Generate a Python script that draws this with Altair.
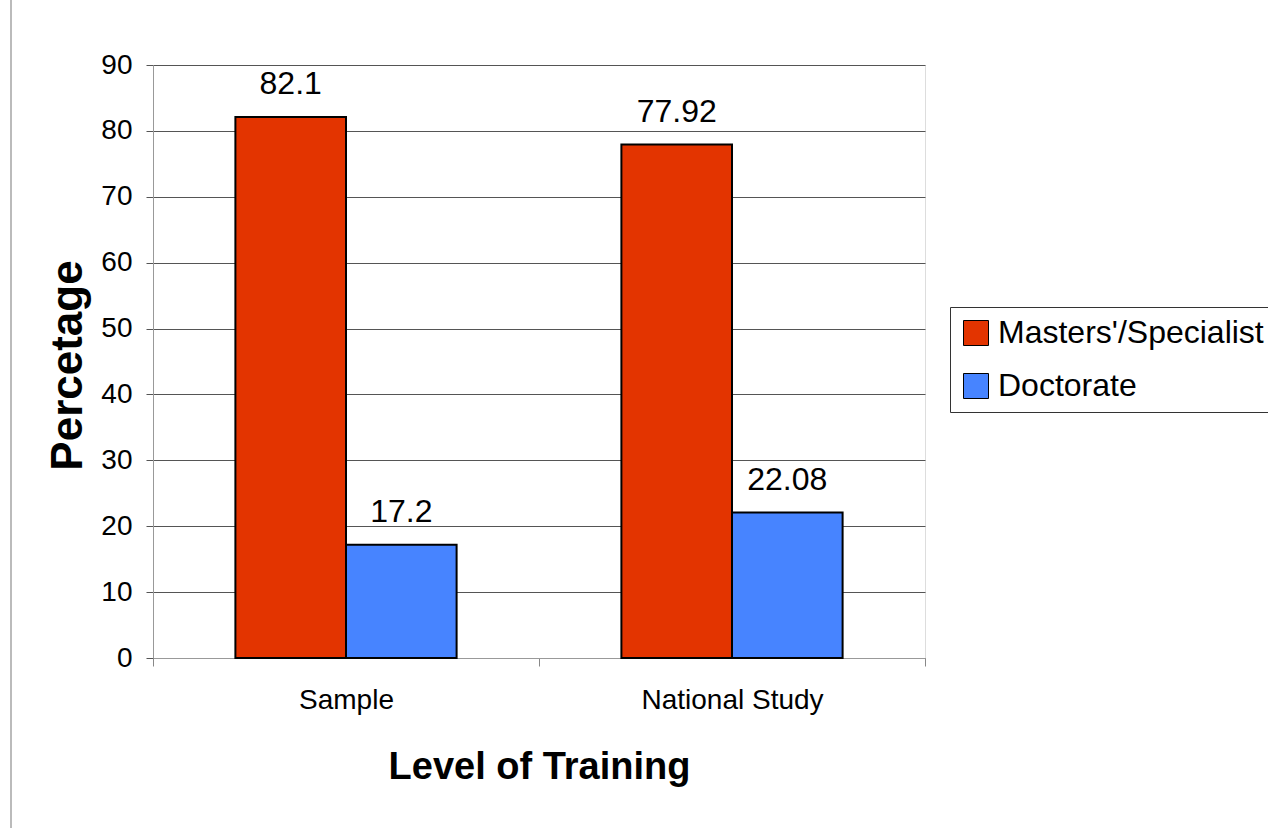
import altair as alt
import pandas as pd

groups = ["Sample", "National Study"]
series = ["Masters'/Specialist", "Doctorate"]
masters = [82.1, 77.92]
doctorate = [17.2, 22.08]
masters_lbl = ["82.1", "77.92"]
doctorate_lbl = ["17.2", "22.08"]
colors = ["#e33400", "#4784ff"]
y_ticks = [0, 10, 20, 30, 40, 50, 60, 70, 80, 90]

rows = []
for i, g in enumerate(groups):
    rows.append({"group": g, "series": series[0], "value": masters[i], "label": masters_lbl[i]})
    rows.append({"group": g, "series": series[1], "value": doctorate[i], "label": doctorate_lbl[i]})
df = pd.DataFrame(rows)

FONT = "Liberation Sans, Arial"
W, H = 772, 593

x_enc = alt.X("group:N", sort=groups, title="Level of Training",
              scale=alt.Scale(paddingInner=0, paddingOuter=0),
              axis=alt.Axis(labelAngle=0, labelFont=FONT, labelFontSize=28, labelColor="#000",
                            labelPadding=20, labelLimit=0, tickBand="extent", tickSize=8,
                            tickColor="#888", domainColor="#999", grid=False,
                            titleFont=FONT, titleFontSize=38, titleFontWeight="bold",
                            titleColor="#000", titleBaseline="alphabetic", titleY=120,
                            titleX=W / 2))
xo_enc = alt.XOffset("series:N", sort=series,
                     scale=alt.Scale(paddingInner=0, paddingOuter=0.745))
y_enc = alt.Y("value:Q", title="Percetage",
              scale=alt.Scale(domain=[0, 90], nice=False),
              axis=alt.Axis(values=y_ticks, labelFont=FONT, labelFontSize=28, labelColor="#000",
                            labelPadding=14, tickSize=7, tickColor="#555", domainColor="#999",
                            gridColor="#555", gridWidth=1,
                            titleFont=FONT, titleFontSize=44, titleFontWeight="bold",
                            titleColor="#000", titleAngle=-90, titleAlign="center",
                            titleBaseline="middle", titleX=-85, titleY=300))

bars = alt.Chart(df).mark_bar(stroke="#000", strokeWidth=2).encode(
    x=x_enc, xOffset=xo_enc, y=y_enc,
    color=alt.Color("series:N", sort=series,
                    scale=alt.Scale(domain=series, range=colors),
                    legend=alt.Legend(title=None, orient="none", legendX=797, legendY=242,
                                      labelFont=FONT, labelFontSize=32, labelColor="#000",
                                      labelLimit=0,
                                      symbolType="square", symbolSize=625,
                                      symbolStrokeColor="#000", symbolStrokeWidth=1,
                                      strokeColor="#333", padding=10, rowPadding=21,
                                      labelOffset=6, fillColor="#fff")),
)

labels = alt.Chart(df).mark_text(font=FONT, fontSize=32, color="#000",
                                 baseline="alphabetic", dy=-23).encode(
    x=alt.X("group:N", sort=groups), xOffset=alt.XOffset("series:N", sort=series),
    y="value:Q", text="label:N")

edge = alt.Chart(pd.DataFrame({"a": [0]})).mark_rule(color="#bbb", strokeWidth=2).encode(
    x=alt.value(-142), y=alt.value(-65), y2=alt.value(763))

chart = alt.layer(bars, labels, edge).properties(
    width=W, height=H,
    autosize=alt.AutoSizeParams(type="none"),
    padding={"left": 153, "top": 65, "right": 343, "bottom": 170},
).configure_view(stroke=None).configure(background="#fff")

chart.save("out.html", embed_options={"renderer": "svg", "actions": False})
